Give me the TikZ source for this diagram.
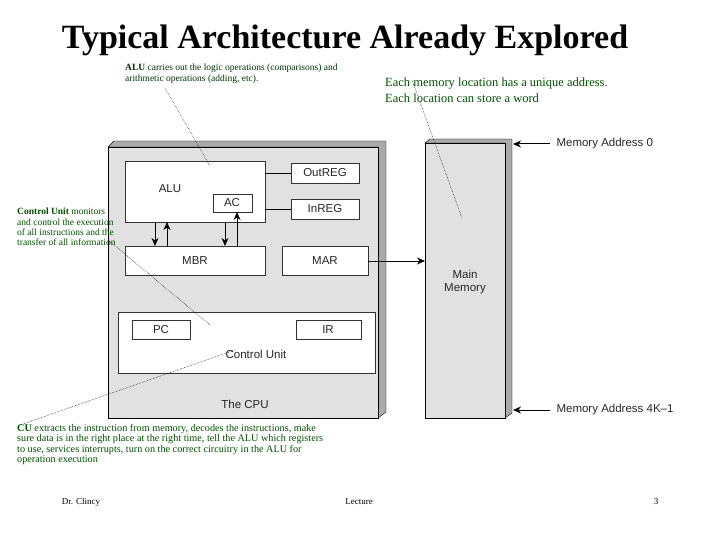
\documentclass[tikz,border=0pt]{standalone}
\usepackage{fontspec}
\usetikzlibrary{arrows.meta}
\setmainfont{Liberation Serif}
\newfontfamily\hv{Liberation Sans}
\definecolor{gfill}{RGB}{225,225,225}
\definecolor{gsh}{RGB}{170,170,170}
\definecolor{ngreen}{RGB}{0,80,0}
\begin{document}
\begin{tikzpicture}[x=1pt,y=-1pt,
 bx/.style={draw=black!80,fill=white,line width=0.9pt},
 lb/.style={font=\hv\fontsize{11.5}{13}\selectfont,text=black!85},
 note/.style={font=\fontsize{9.5}{10.4}\selectfont,text=ngreen,align=left,anchor=north west,inner sep=0pt},
 dot/.style={densely dotted,line width=0.5pt},
 ar/.style={-{Stealth[length=8pt,width=7pt,inset=2.5pt]},line width=1pt}]
\path[use as bounding box] (0,0) rectangle (720,540);
\node[font=\bfseries\fontsize{34}{36}\selectfont] (title) at (345,40) {Typical Architecture Already Explored};
% CPU
\fill[gsh,draw=black] (108,147) -- (114,141) -- (386,141) -- (386,412) -- (378,418) -- (378,147) -- cycle;
\draw[fill=gfill,line width=0.9pt] (108,147) rectangle (378,418);
\draw[fill=gsh,draw=black] (425,143) -- (430,139) -- (512,139) -- (512,413) -- (505,418) -- (505,143) -- cycle;
\draw[fill=gfill,line width=0.9pt] (425,143) rectangle (505,418);
\node[lb,align=center] (mem) at (465,282) {Main\\Memory};
\draw[bx] (125,161) rectangle (265,222);
\node[lb] (alu) at (170,189) {ALU};
\draw[bx] (213,194) rectangle (252,212); \node[lb] (ac) at (232,203) {AC};
\draw[bx] (291,163) rectangle (359,183); \node[lb] (out) at (325,173) {OutREG};
\draw[bx] (291,199) rectangle (359,219); \node[lb] (in) at (325,209) {InREG};
\draw[line width=0.6pt] (265,173) -- (291,173) (265,209) -- (291,209);
\draw[bx] (125,246) rectangle (265,275); \node[lb] (mbr) at (195,261) {MBR};
\draw[bx] (282,246) rectangle (368,275); \node[lb] (mar) at (325,261) {MAR};
\draw[ar] (368,261) -- (425,261);
\draw[ar] (155,222) -- (155,246); \draw[ar] (167,246) -- (167,222);
\draw[ar] (225,222) -- (225,246); \draw[ar] (237,246) -- (237,212);
\draw[bx] (118,312) rectangle (375,373);
\draw[bx] (132,320) rectangle (190,339); \node[lb] (pc) at (161,330) {PC};
\draw[bx] (296,320) rectangle (361,339); \node[lb] (ir) at (328,330) {IR};
\node[lb] (cu) at (256,354) {Control Unit};
\node[lb] (cpu) at (245,404) {The CPU};
\coordinate (m0) at (550,144); \coordinate (m1) at (550,410);
\draw[ar] (m0) -- (513,144); \draw[ar] (m1) -- (513,410);
\node[lb,anchor=west] at (553,144) {Memory Address 0};
\node[lb,anchor=west] at (553,410) {Memory Address 4K\textendash1};
% notes
\node[note,text=black!80!green] (n1) at (125,64) {\textbf{ALU} carries out the logic operations (comparisons) and\\arithmetic operations (adding, etc).};
\node[note,font=\fontsize{12.5}{15.5}\selectfont] (n2) at (385,78) {Each memory location has a unique address.\\Each location can store a word};
\node[note] (n3) at (17,208) {\textbf{Control Unit} monitors\\and control the execution\\of all instructions and the\\transfer of all information};
\node[note,font=\fontsize{10.2}{10.4}\selectfont] (n4) at (17,424) {\textbf{CU} extracts the instruction from memory, decodes the instructions, make\\sure data is in the right place at the right time, tell the ALU which registers\\to use, services interrupts, turn on the correct circuitry in the ALU for\\operation execution};
\draw[dot] (165,88) -- (210,166);
\draw[dot] (412,80) -- (462,218);
\draw[dot] (108,240) -- (210,325);
\draw[dot] (20,425) -- (235,350);
\node[font=\fontsize{9}{10}\selectfont] at (81,502) {Dr. Clincy};
\node[font=\fontsize{9}{10}\selectfont] at (359,502) {Lecture};
\node[font=\fontsize{9}{10}\selectfont] at (656,502) {3};
\end{tikzpicture}
\end{document}
